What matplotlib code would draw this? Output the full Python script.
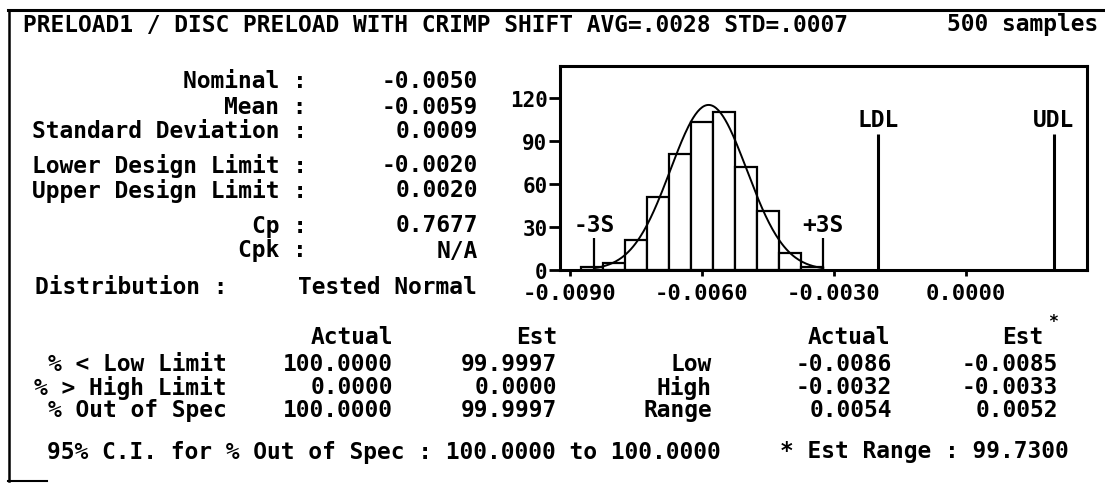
import matplotlib
matplotlib.use("Agg")
import matplotlib.pyplot as plt
from matplotlib.lines import Line2D
import numpy as np

W, H = 1105, 485
FONT = "DejaVu Sans Mono"
FS = 16.5

# report header
title = "PRELOAD1 / DISC PRELOAD WITH CRIMP SHIFT AVG=.0028 STD=.0007"
samples_txt = "500 samples"

# summary block
stat_labels = ["Nominal :", "Mean :", "Standard Deviation :",
               "Lower Design Limit :", "Upper Design Limit :", "Cp :", "Cpk :"]
stat_values = ["-0.0050", "-0.0059", "0.0009", "-0.0020", "0.0020", "0.7677", "N/A"]
stat_rows_y = [82, 107, 132, 166, 191, 226, 251]

# histogram data
bin_edges = [-0.00875, -0.00825, -0.00775, -0.00725, -0.00675, -0.00625,
             -0.00575, -0.00525, -0.00475, -0.00425, -0.00375, -0.00325]
counts = [2, 5, 21, 51, 81, 103, 110, 72, 41, 12, 2]
mean = -0.00585
std = 0.000868
ldl = -0.0020
udl = 0.0020
xticks = [-0.0090, -0.0060, -0.0030, 0.0000]
yticks = [0, 30, 60, 90, 120]

# spec tables
pct_labels = ["% < Low Limit", "% > High Limit", "% Out of Spec"]
pct_actual = ["100.0000", "0.0000", "100.0000"]
pct_est = ["99.9997", "0.0000", "99.9997"]
rng_labels = ["Low", "High", "Range"]
rng_actual = ["-0.0086", "-0.0032", "0.0054"]
rng_est = ["-0.0085", "-0.0033", "0.0052"]
table_rows_y = [365, 388, 411]
ci_txt = "95% C.I. for % Out of Spec : 100.0000 to 100.0000"
est_range_txt = "* Est Range : 99.7300"

fig = plt.figure(figsize=(W / 100, H / 100), dpi=100)
fig.patch.set_facecolor("white")


def put(x, y, s, ha="left", size=FS):
    fig.text(x / W, 1 - y / H, s, ha=ha, va="center", fontsize=size,
             fontweight="bold", family=FONT, color="black")


def hline(x0, x1, y, lw=2):
    fig.add_artist(Line2D([x0 / W, x1 / W], [1 - y / H, 1 - y / H], lw=lw, color="black"))


def vline(x, y0, y1, lw=2):
    fig.add_artist(Line2D([x / W, x / W], [1 - y0 / H, 1 - y1 / H], lw=lw, color="black"))


# frame bits
hline(8, W, 11, lw=2.2)
vline(9, 11, 482, lw=1.8)
hline(8, 47, 482, lw=1.5)

put(23, 25, title)
put(1098, 25, samples_txt, ha="right")

for lab, val, y in zip(stat_labels, stat_values, stat_rows_y):
    put(307, y, lab, ha="right")
    put(478, y, val, ha="right")

put(35, 288, "Distribution :")
put(477, 288, "Tested Normal", ha="right")

# histogram panel
ax = fig.add_axes([560 / W, 1 - 271 / H, 527 / W, 204 / H])
widths = np.diff(bin_edges)
ax.bar(bin_edges[:-1], counts, width=widths, align="edge",
       facecolor="white", edgecolor="black", linewidth=1.6)
bw = widths[0]
xs = np.linspace(mean - 3 * std, mean + 3 * std, 200)
ys = sum(counts) * bw / (std * np.sqrt(2 * np.pi)) * np.exp(-0.5 * ((xs - mean) / std) ** 2)
ax.plot(xs, ys, color="black", lw=1.4)

ax.vlines([ldl, udl], 0, 95, color="black", lw=2.2)
ax.vlines([mean - 3 * std, mean + 3 * std], 0, 22, color="black", lw=1.6)
for x, s, top in [(ldl, "LDL", 95), (udl, "UDL", 95),
                  (mean - 3 * std, "-3S", 22), (mean + 3 * std, "+3S", 22)]:
    ax.text(x, top + 1.5, s, ha="center", va="bottom", fontsize=FS,
            fontweight="bold", family=FONT)

ax.set_xlim(-0.009227, 0.00275)
ax.set_ylim(0, 142)
ax.set_xticks(xticks)
ax.set_xticklabels(["%.4f" % v for v in xticks])
ax.set_yticks(yticks)
ax.set_yticklabels([str(v) for v in yticks])
for lbl in ax.get_xticklabels():
    lbl.set_fontfamily(FONT)
    lbl.set_fontweight("bold")
    lbl.set_fontsize(16)
for lbl in ax.get_yticklabels():
    lbl.set_fontfamily(FONT)
    lbl.set_fontweight("bold")
    lbl.set_fontsize(15)
ax.tick_params(axis="y", direction="out", length=8, width=2, pad=1)
ax.tick_params(axis="x", direction="out", length=4, width=2, pad=5)
for sp in ax.spines.values():
    sp.set_linewidth(2.2)

# tables
put(393, 338, "Actual", ha="right")
put(557, 338, "Est", ha="right")
put(890, 338, "Actual", ha="right")
put(1043, 338, "Est", ha="right")
put(1053, 322, "*", ha="center", size=12)
for i, y in enumerate(table_rows_y):
    put(227, y, pct_labels[i], ha="right")
    put(393, y, pct_actual[i], ha="right")
    put(557, y, pct_est[i], ha="right")
    put(712, y, rng_labels[i], ha="right")
    put(892, y, rng_actual[i], ha="right")
    put(1058, y, rng_est[i], ha="right")

put(47, 453, ci_txt)
put(780, 452, est_range_txt)

fig.savefig("out.png", dpi=100, facecolor="white")
